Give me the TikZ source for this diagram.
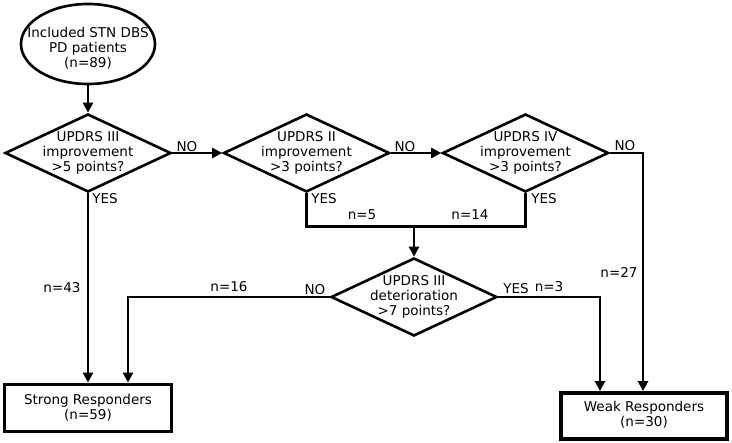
\documentclass[tikz,border=0pt]{standalone}
\usepackage{fontspec}
\setmainfont{DejaVu Sans}
\usetikzlibrary{shapes.geometric,arrows.meta}
\begin{document}
\begin{tikzpicture}[x=1pt,y=-1pt,
  font=\fontsize{13.5}{15}\selectfont,
  dec/.style={diamond,draw,line width=2.6pt,minimum width=166pt,minimum height=78pt,inner sep=0pt},
  txt/.style={align=center,inner sep=0pt},
  box/.style={rectangle,draw,line width=3.8pt,minimum width=166pt,minimum height=46pt,inner sep=0pt},
  conn/.style={line width=2.6pt},
  arr/.style={conn,-{Triangle[length=10pt,width=10pt]}},
  lbl/.style={inner sep=0pt}
]
\useasboundingbox (0,0) rectangle (732,443);

\node[ellipse,draw,line width=2.6pt,minimum width=134pt,minimum height=80pt,inner sep=0pt] (start) at (88,44) {};
\node[txt] (starttxt) at (88,48) {Included STN DBS\\PD patients\\(n=89)};

\node[dec] (d1) at (88,153) {};
\node[txt] (d1t) at (88,153) {UPDRS III\\improvement\\>5 points?};
\node[dec] (d2) at (306.5,153) {};
\node[txt] (d2t) at (306.5,152.5) {UPDRS II\\improvement\\>3 points?};
\node[dec] (d3) at (525.5,153) {};
\node[txt] (d3t) at (525.5,152.5) {UPDRS IV\\improvement\\>3 points?};
\node[dec] (d4) at (414,297) {};
\node[txt] (d4t) at (414,297) {UPDRS III\\deterioration\\>7 points?};

\node[box,minimum width=167pt,minimum height=47pt] (strong) at (88,408) {};
\node[txt] (strongt) at (88,408) {Strong Responders\\(n=59)};
\node[box] (weak) at (644,416) {};
\node[txt] (weakt) at (644,415) {Weak Responders\\(n=30)};

\draw[arr] (start.south) -- (d1.north);
\draw[arr] (d1.east) -- (d2.west);
\draw[arr] (d2.east) -- (d3.west);
\draw[arr] (d3.east) -| ([xshift=-1pt]weak.north);
\draw[arr] (d1.south) -- (strong.north);
\draw[conn] (d2.south) -- ++(0,33) -| (d3.south);
\coordinate (join) at (414,225);
\draw[arr] (join) -- (d4.north);
\draw[arr] (d4.west) -| ([xshift=40pt]strong.north);
\draw[arr] (d4.east) -| ([xshift=-44pt]weak.north);

\node[lbl] (l1) at (187,147) {NO};
\node[lbl] (l2) at (105,199) {YES};
\node[lbl] (l3) at (405,147) {NO};
\node[lbl] (l4) at (625,146) {NO};
\node[lbl] (l5) at (324,199) {YES};
\node[lbl] (l6) at (544,199) {YES};
\node[lbl] (l7) at (362,215) {n=5};
\node[lbl] (l8) at (470,215) {n=14};
\node[lbl] (l9) at (62,288) {n=43};
\node[lbl] (l10) at (229,287) {n=16};
\node[lbl] (l11) at (315,290) {NO};
\node[lbl] (l12) at (516,289) {YES};
\node[lbl] (l13) at (549,287) {n=3};
\node[lbl] (l14) at (619,272) {n=27};
\end{tikzpicture}
\end{document}
